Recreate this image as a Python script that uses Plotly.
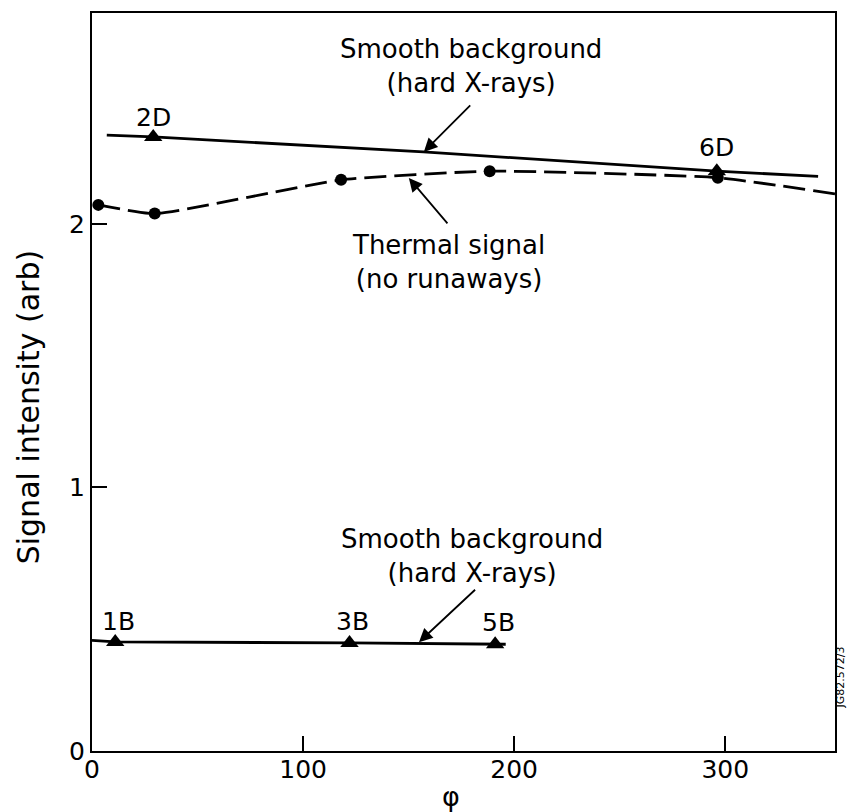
import plotly.graph_objects as go

# ---- data ----
upper_bg_x = [7, 29, 157, 296, 344]
upper_bg_y = [2.337, 2.330, 2.273, 2.200, 2.180]
upper_mark_x = [29, 296]
upper_mark_y = [2.330, 2.200]
upper_mark_labels = ["2D", "6D"]

thermal_x = [3.0, 29.7, 118, 188.4, 296.5, 352]
thermal_y = [2.072, 2.039, 2.167, 2.200, 2.175, 2.114]
thermal_mark_x = [3.0, 29.7, 118, 188.4, 296.5]
thermal_mark_y = [2.072, 2.039, 2.167, 2.200, 2.175]

lower_bg_x = [0, 11, 122, 191, 196]
lower_bg_y = [0.420, 0.414, 0.410, 0.405, 0.405]
lower_mark_x = [11, 122, 191]
lower_mark_y = [0.414, 0.410, 0.405]
lower_mark_labels = ["1B", "3B", "5B"]

x_ticks = [0, 100, 200, 300]
y_ticks = [0, 1, 2]

FONT = "DejaVu Sans"
BLACK = "#000000"

fig = go.Figure()

fig.add_trace(go.Scatter(x=upper_bg_x, y=upper_bg_y, mode="lines",
                         line=dict(color=BLACK, width=2.8), showlegend=False))
fig.add_trace(go.Scatter(x=upper_mark_x, y=upper_mark_y, mode="markers",
                         marker=dict(symbol="triangle-up", size=16, color=BLACK),
                         showlegend=False))
fig.add_trace(go.Scatter(x=thermal_x, y=thermal_y, mode="lines",
                         line=dict(color=BLACK, width=2.8, dash="22px,8px",
                                   shape="spline", smoothing=0.45),
                         showlegend=False))
fig.add_trace(go.Scatter(x=thermal_mark_x, y=thermal_mark_y, mode="markers",
                         marker=dict(symbol="circle", size=12, color=BLACK),
                         showlegend=False))
fig.add_trace(go.Scatter(x=lower_bg_x, y=lower_bg_y, mode="lines",
                         line=dict(color=BLACK, width=2.8), showlegend=False))
fig.add_trace(go.Scatter(x=lower_mark_x, y=lower_mark_y, mode="markers",
                         marker=dict(symbol="triangle-up", size=16, color=BLACK),
                         showlegend=False))

ann = []
label_font = dict(family=FONT, size=25, color=BLACK)
for lx, ly, lt in zip(upper_mark_x, [2.405, 2.290], upper_mark_labels):
    ann.append(dict(x=lx, y=ly, text=lt, showarrow=False, font=label_font,
                    xanchor="center", yanchor="middle"))
for lx, ly, lt in zip(lower_mark_x, [0.492, 0.492, 0.489], lower_mark_labels):
    ann.append(dict(x=lx + 1.5, y=ly, text=lt, showarrow=False, font=label_font,
                    xanchor="center", yanchor="middle"))

text_font = dict(family=FONT, size=26, color=BLACK)
ann.append(dict(x=179.4, y=2.598, text="Smooth background<br>(hard X-rays)",
                showarrow=False, font=text_font, xanchor="center", yanchor="middle"))
ann.append(dict(x=169.0, y=1.856, text="Thermal signal<br>(no runaways)",
                showarrow=False, font=text_font, xanchor="center", yanchor="middle"))
ann.append(dict(x=180.1, y=0.739, text="Smooth background<br>(hard X-rays)",
                showarrow=False, font=text_font, xanchor="center", yanchor="middle"))

# arrows
for hx, hy, tx, ty in [(157.2, 2.273, 179.9, 2.455),
                       (150.1, 2.174, 169.0, 1.996),
                       (154.9, 0.413, 182.2, 0.617)]:
    ann.append(dict(x=hx, y=hy, ax=tx, ay=ty, axref="x", ayref="y",
                    text="", showarrow=True, arrowhead=2, arrowsize=1.5,
                    arrowwidth=1.8, arrowcolor=BLACK))

# axis titles as annotations
ann.append(dict(x=170, y=-0.062, xref="x", yref="paper", text="φ",
                showarrow=False, font=dict(family=FONT, size=27, color=BLACK),
                xanchor="center", yanchor="middle"))
ann.append(dict(x=-0.085, y=0.4655, xref="paper", yref="paper",
                text="Signal intensity (arb)", textangle=-90, showarrow=False,
                font=dict(family=FONT, size=30, color=BLACK),
                xanchor="center", yanchor="middle"))
ann.append(dict(x=1.007, y=0.1, xref="paper", yref="paper",
                text="JG82.572/3", textangle=-90, showarrow=False,
                font=dict(family=FONT, size=11, color=BLACK),
                xanchor="center", yanchor="middle"))

fig.update_layout(
    width=848, height=812,
    margin=dict(l=92, r=11, t=12, b=61),
    paper_bgcolor="white", plot_bgcolor="white",
    annotations=ann,
    showlegend=False,
)
fig.update_xaxes(range=[0, 352], tickvals=x_ticks, ticks="inside", ticklen=15,
                 tickwidth=1.5, tickcolor=BLACK, showline=True, linecolor=BLACK,
                 linewidth=2, mirror=True, showgrid=False, zeroline=False,
                 ticklabelstandoff=-5,
                 tickfont=dict(family=FONT, size=25, color=BLACK))
fig.update_yaxes(range=[0, 2.80], tickvals=y_ticks, ticks="inside", ticklen=15,
                 tickwidth=1.5, tickcolor=BLACK, showline=True, linecolor=BLACK,
                 linewidth=2, mirror=True, showgrid=False, zeroline=False,
                 tickfont=dict(family=FONT, size=25, color=BLACK))

fig.write_html("out.html")
